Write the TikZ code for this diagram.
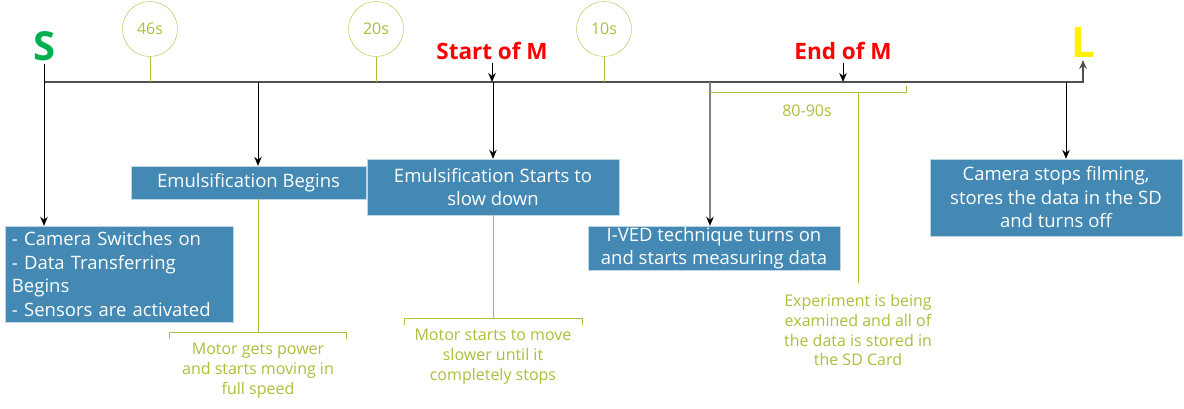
\documentclass[tikz,border=0pt]{standalone}
\usepackage{fontspec}
\usetikzlibrary{arrows.meta}
\setmainfont{Open Sans}
\definecolor{boxblue}{HTML}{4489B4}
\definecolor{limeline}{HTML}{AEBD3A}
\definecolor{sgreen}{HTML}{00B050}
\definecolor{axisgray}{HTML}{505050}

\begin{document}
\begin{tikzpicture}[x=1pt, y=-1pt, >={Stealth[length=9pt, width=7.5pt]},
    infobox/.style={fill=boxblue, draw=boxblue!35!white, text=white, inner sep=0pt,
      align=center, font=\fontsize{18.5}{23.5}\selectfont},
    note/.style={text=limeline, align=center, font=\fontsize{16}{19.7}\selectfont},
    timer/.style={circle, draw=limeline, text=limeline, minimum size=55pt, inner sep=0pt,
      font=\fontsize{16}{18}\selectfont},
    event/.style={text=red, font=\bfseries\fontsize{22.5}{24}\selectfont},
    bracket/.style={draw=limeline, line width=1pt}]

    \useasboundingbox (0,0) rectangle (1184,409);

    % time axis
    \coordinate (tS) at (44,82);
    \coordinate (tL) at (1083,82);
    \coordinate (tLtop) at (1083,60);
    \draw [line width=1.2pt, draw=axisgray, ->](tS)--(tL)--(tLtop);
    \node (S) [text=sgreen, font=\bfseries\fontsize{40}{42}\selectfont] at (45,46) {S};
    \node (L) [text=yellow, font=\bfseries\fontsize{42}{44}\selectfont] at (1083,43) {L};

    % time intervals
    \node (c46) [timer] at (150,29) {46s};
    \node (c20) [timer] at (376,29) {20s};
    \node (c10) [timer] at (604,29) {10s};
    \draw [limeline, line width=1pt](c46.south)--(c46.south |- tS);
    \draw [limeline, line width=1pt](c20.south)--(c20.south |- tS);
    \draw [limeline, line width=1pt](c10.south)--(c10.south |- tS);

    % measurement start / end
    \node (startM) [event] at (492,51) {Start of M};
    \node (endM) [event] at (843,51) {End of M};
    \draw [line width=1pt, ->](startM.south)--(startM.south |- tS);
    \draw [line width=1pt, ->](endM.south)--(endM.south |- tS);

    % boxes
    \node (camon) [infobox, align=left, text width=214pt, inner xsep=7pt, minimum height=96pt]
      at (119,274) {- Camera Switches on\\- Data Transferring\\Begins\\- Sensors are activated};
    \node (emubegin) [infobox, minimum width=235pt, minimum height=33pt] at (248.5,182.5)
      {Emulsification Begins};
    \node (emuslow) [infobox, minimum width=252pt, minimum height=56pt] at (493,187)
      {Emulsification Starts to\\slow down};
    \node (ived) [infobox, minimum width=252pt, minimum height=44pt] at (714,248)
      {I-VED technique turns on\\and starts measuring data};
    \node (camoff) [infobox, minimum width=252pt, minimum height=77pt] at (1056,197.5)
      {Camera stops filming,\\stores the data in the SD\\and turns off};

    % arrows from the axis
    \coordinate (tS0) at (44,64);
    \coordinate (t1) at (258,82);
    \coordinate (t2) at (493,82);
    \coordinate (t3) at (710,82);
    \coordinate (t4) at (1066,82);
    \draw [line width=1pt, ->](tS0)--(tS0 |- camon.north);
    \draw [line width=1pt, ->](t1)--(t1 |- emubegin.north);
    \draw [line width=1pt, ->](t2)--(t2 |- emuslow.north);
    \draw [line width=1.4pt, draw=gray, -{Stealth[length=9pt, width=7.5pt, black]}](t3)--(t3 |- ived.north);
    \draw [line width=1pt, ->](t4)--(t4 |- camoff.north);

    % motor notes
    \coordinate (b1) at (258,332);
    \draw [bracket](169,339)--(169,332)--(346,332)--(346,339);
    \draw [bracket](t1 |- emubegin.south)--(b1);
    \node (motor1) [note, anchor=north] at (258,340) {Motor gets power\\and starts moving in\\full speed};

    \coordinate (b2) at (493,318);
    \draw [bracket](404,325)--(404,318)--(582,318)--(582,325);
    \draw [bracket](t2 |- emuslow.south)--(b2);
    \node (motor2) [note, anchor=north] at (493,326) {Motor starts to move\\slower until it\\completely stops};

    % measuring time
    \coordinate (b3) at (858,93);
    \coordinate (b3end) at (858,283);
    \draw [bracket](710,93)--(906,93)--(906,86);
    \node (span) [note] at (807,111) {80-90s};
    \draw [bracket](b3)--(b3end);
    \node (exper) [note, anchor=north] at (858,291) {Experiment is being\\examined and all of\\the data is stored in\\the SD Card};

\end{tikzpicture}
\end{document}
